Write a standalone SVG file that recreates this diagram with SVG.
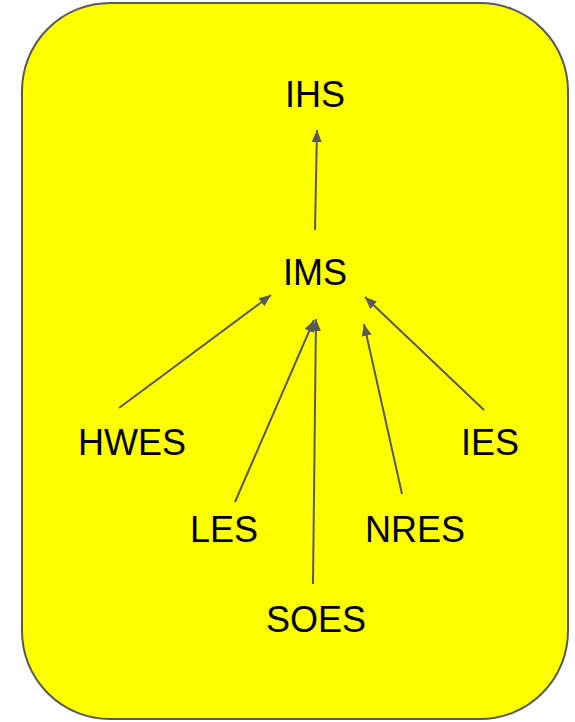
<svg xmlns="http://www.w3.org/2000/svg" width="575" height="722" viewBox="0 0 575 722">
<style>
.lbl{font-family:"Liberation Sans",Arial,sans-serif;font-size:36px;fill:#000;text-anchor:middle}
.edge{stroke:#595959;stroke-width:2;fill:none;marker-end:url(#ah)}
</style>
<defs>
<marker id="ah" markerUnits="userSpaceOnUse" markerWidth="14" markerHeight="12" refX="12" refY="5" orient="auto">
<path d="M0,0 L12,5 L0,10 Z" fill="#595959"/>
</marker>
</defs>
<g id="container">
<rect x="22" y="3" width="546" height="716" rx="88" ry="88" fill="#ffff00" stroke="#595959" stroke-width="2"/>
</g>
<g id="connectors">
<line class="edge" x1="315" y1="230" x2="317" y2="130"/>
<line class="edge" x1="119" y1="408" x2="271" y2="295"/>
<line class="edge" x1="235" y1="502" x2="314" y2="320"/>
<line class="edge" x1="313" y1="584" x2="316" y2="319"/>
<line class="edge" x1="402" y1="494" x2="364" y2="324"/>
<line class="edge" x1="484" y1="410" x2="365" y2="297"/>
</g>
<g id="IHS"><text class="lbl" x="315" y="107">IHS</text></g>
<g id="IMS"><text class="lbl" x="315" y="285">IMS</text></g>
<g id="HWES"><text class="lbl" x="132" y="455">HWES</text></g>
<g id="IES"><text class="lbl" x="490" y="455">IES</text></g>
<g id="LES"><text class="lbl" x="224" y="542">LES</text></g>
<g id="NRES"><text class="lbl" x="415" y="542">NRES</text></g>
<g id="SOES"><text class="lbl" x="316" y="632">SOES</text></g>
</svg>
